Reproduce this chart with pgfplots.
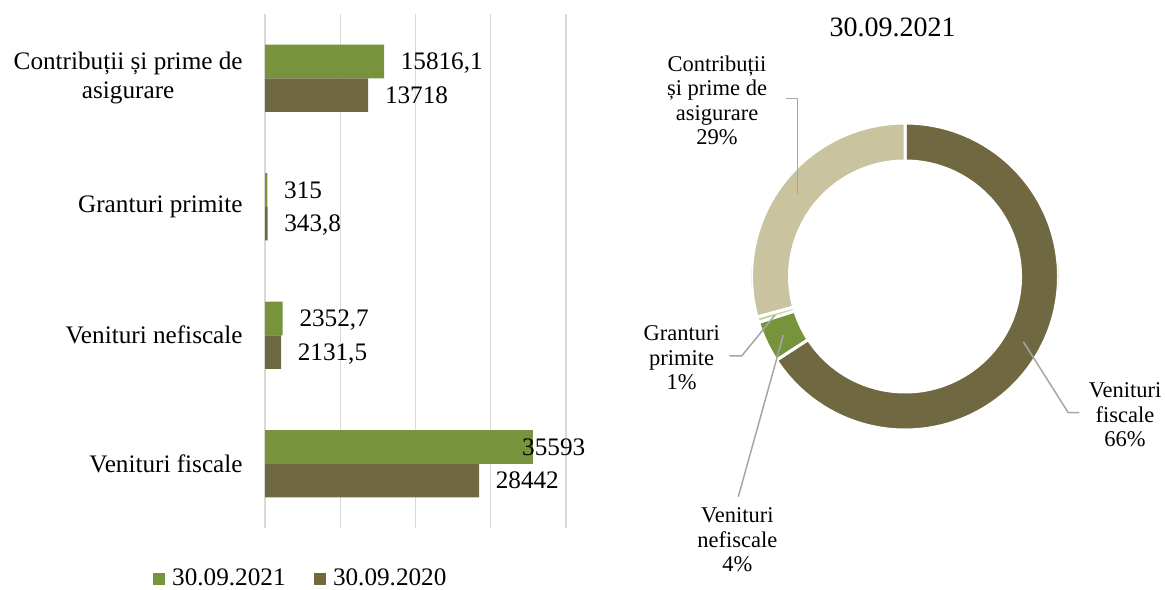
\documentclass[border=0pt]{standalone}
\usepackage{fontspec}
\setmainfont{Liberation Serif}
\usepackage{pgfplots}
\usepackage{pgfplotstable}
\pgfplotsset{compat=1.18}

\definecolor{cgreen}{RGB}{119,147,60}
\definecolor{cbrown}{RGB}{111,104,64}
\definecolor{ctan}{RGB}{201,195,159}
\definecolor{clight}{RGB}{195,214,155}
\definecolor{gridgray}{RGB}{217,217,217}
\definecolor{leadgray}{RGB}{166,166,166}

\newcommand\fA{\fontsize{12.6}{14.5}\selectfont}
\newcommand\fB{\fontsize{11.25}{12.25}\selectfont}
\newcommand\fT{\fontsize{14}{16}\selectfont}
\newcommand\px[2]{({#1*0.5pt},{(589-#2)*0.5pt})}

% bar data
\pgfplotstableread{
y x lbl
1 2352.7 2352,7
2 315 315
3 15816.1 15816,1
}\tabNew
\pgfplotstableread{
y x lbl
0 35593 35593
}\tabNewBig
\pgfplotstableread{
y x lbl
0 28442 28442
1 2131.5 2131,5
2 343.8 343,8
3 13718 13718
}\tabOld

% donut data (30.09.2021)
\pgfplotstableread{
label value
fiscale 35593
nefiscale 2352.7
granturi 315
contributii 15816.1
}\pietable

\pgfplotstablegetelem{0}{value}\of\pietable \edef\vA{\pgfplotsretval}%
\pgfplotstablegetelem{1}{value}\of\pietable \edef\vB{\pgfplotsretval}%
\pgfplotstablegetelem{2}{value}\of\pietable \edef\vC{\pgfplotsretval}%
\pgfplotstablegetelem{3}{value}\of\pietable \edef\vD{\pgfplotsretval}%
\edef\tot{\fpeval{\vA+\vB+\vC+\vD}}%
\edef\aA{90}%
\edef\aB{\fpeval{\aA-360*\vA/\tot}}%
\edef\aC{\fpeval{\aB-360*\vB/\tot}}%
\edef\aD{\fpeval{\aC-360*\vC/\tot}}%
\edef\aE{\fpeval{\aD-360*\vD/\tot}}%
\newcommand\slice[3]{%
  \fill[#3, draw=white, line width=1.5pt]
    (axis cs:{cos(#1)},{sin(#1)}) arc[start angle=#1, end angle=#2, radius=76.75pt]
    -- (axis cs:{0.7524*cos(#2)},{0.7524*sin(#2)}) arc[start angle=#2, end angle=#1, radius=57.75pt]
    -- cycle;}

\begin{document}
\begin{tikzpicture}
\useasboundingbox (0,0) rectangle (582.5pt,294.5pt);

\begin{axis}[
  at={(132.5pt,30.5pt)}, anchor=south west,
  scale only axis, width=150.5pt, height=257pt,
  xbar,
  xmin=0, xmax=40000, ymin=-0.5, ymax=3.5,
  xtick={0,10000,20000,30000,40000}, xticklabels={}, scaled x ticks=false,
  xmajorgrids, grid style={draw=gridgray, line width=0.75pt},
  ytick={0,1,2,3},
  yticklabels={Venituri fiscale, Venituri nefiscale, Granturi primite, {Contribuții și prime de\\asigurare}},
  yticklabel style={align=center, inner sep=0pt, xshift=-11pt, font=\fA},
  major tick length=0pt,
  axis line style={draw=none},
  bar width=0.262,
  nodes near coords={\pgfplotspointmeta},
  point meta=explicit symbolic,
  every node near coord/.append style={font=\fA, anchor=west, inner sep=0pt, text depth=0pt, xshift=8.2pt, text=black},
  legend style={at={(-0.373,-0.0992)}, anchor=west, draw=none, fill=none, inner sep=0pt,
    legend columns=2, font=\fA,
    /tikz/every even column/.append style={column sep=14.15pt},
    /tikz/every odd column/.append style={column sep=3.7pt},
    nodes={inner sep=0pt}},
  legend image code/.code={\fill[#1, draw=none] (0pt,-2.9pt) rectangle (5.85pt,2.9pt);},
]
\addplot[fill=cgreen, draw=none, bar shift=0.131] table[x=x, y=y, meta=lbl] {\tabNew};
\addlegendentry{30.09.2021}
\addplot[fill=cbrown, draw=none, bar shift=-0.131] table[x=x, y=y, meta=lbl] {\tabOld};
\addlegendentry{30.09.2020}
\addplot[fill=cgreen, draw=none, bar shift=0.131, forget plot,
  every node near coord/.append style={xshift=-13.7pt}] table[x=x, y=y, meta=lbl] {\tabNewBig};
\end{axis}

\begin{axis}[
  at={(452.5pt,156.25pt)}, anchor=center,
  scale only axis, width=153.5pt, height=153.5pt,
  xmin=-1, xmax=1, ymin=-1, ymax=1, hide axis,
]
\slice{\aA}{\aB}{cbrown}
\slice{\aB}{\aC}{cgreen}
\slice{\aC}{\aD}{clight}
\slice{\aD}{\aE}{ctan}
\end{axis}

% title
\node[font=\fT, anchor=center] at \px{892.5}{27} {30.09.2021};

% leader lines
\draw[leadgray, line width=0.75pt] \px{785.7}{98.3} -- \px{797.3}{98.3} -- \px{797.3}{194};
\draw[leadgray, line width=0.75pt] \px{729.3}{356} -- \px{741.7}{356} -- \px{775}{315};
\draw[leadgray, line width=0.75pt] \px{783.3}{335} -- \px{738.3}{496.7};
\draw[leadgray, line width=0.75pt] \px{1023.3}{341.7} -- \px{1068.3}{412.7} -- \px{1079.3}{412.7};

% donut labels
\node[font=\fB, align=center, inner sep=0pt] at \px{717}{100.5} {Contribuții\\și prime de\\asigurare\\29\%};
\node[font=\fB, align=center, inner sep=0pt] at \px{681.7}{358} {Granturi\\primite\\1\%};
\node[font=\fB, align=center, inner sep=0pt] at \px{737.3}{540} {Venituri\\nefiscale\\4\%};
\node[font=\fB, align=center, inner sep=0pt] at \px{1125}{415} {Venituri\\fiscale\\66\%};
\end{tikzpicture}
\end{document}
